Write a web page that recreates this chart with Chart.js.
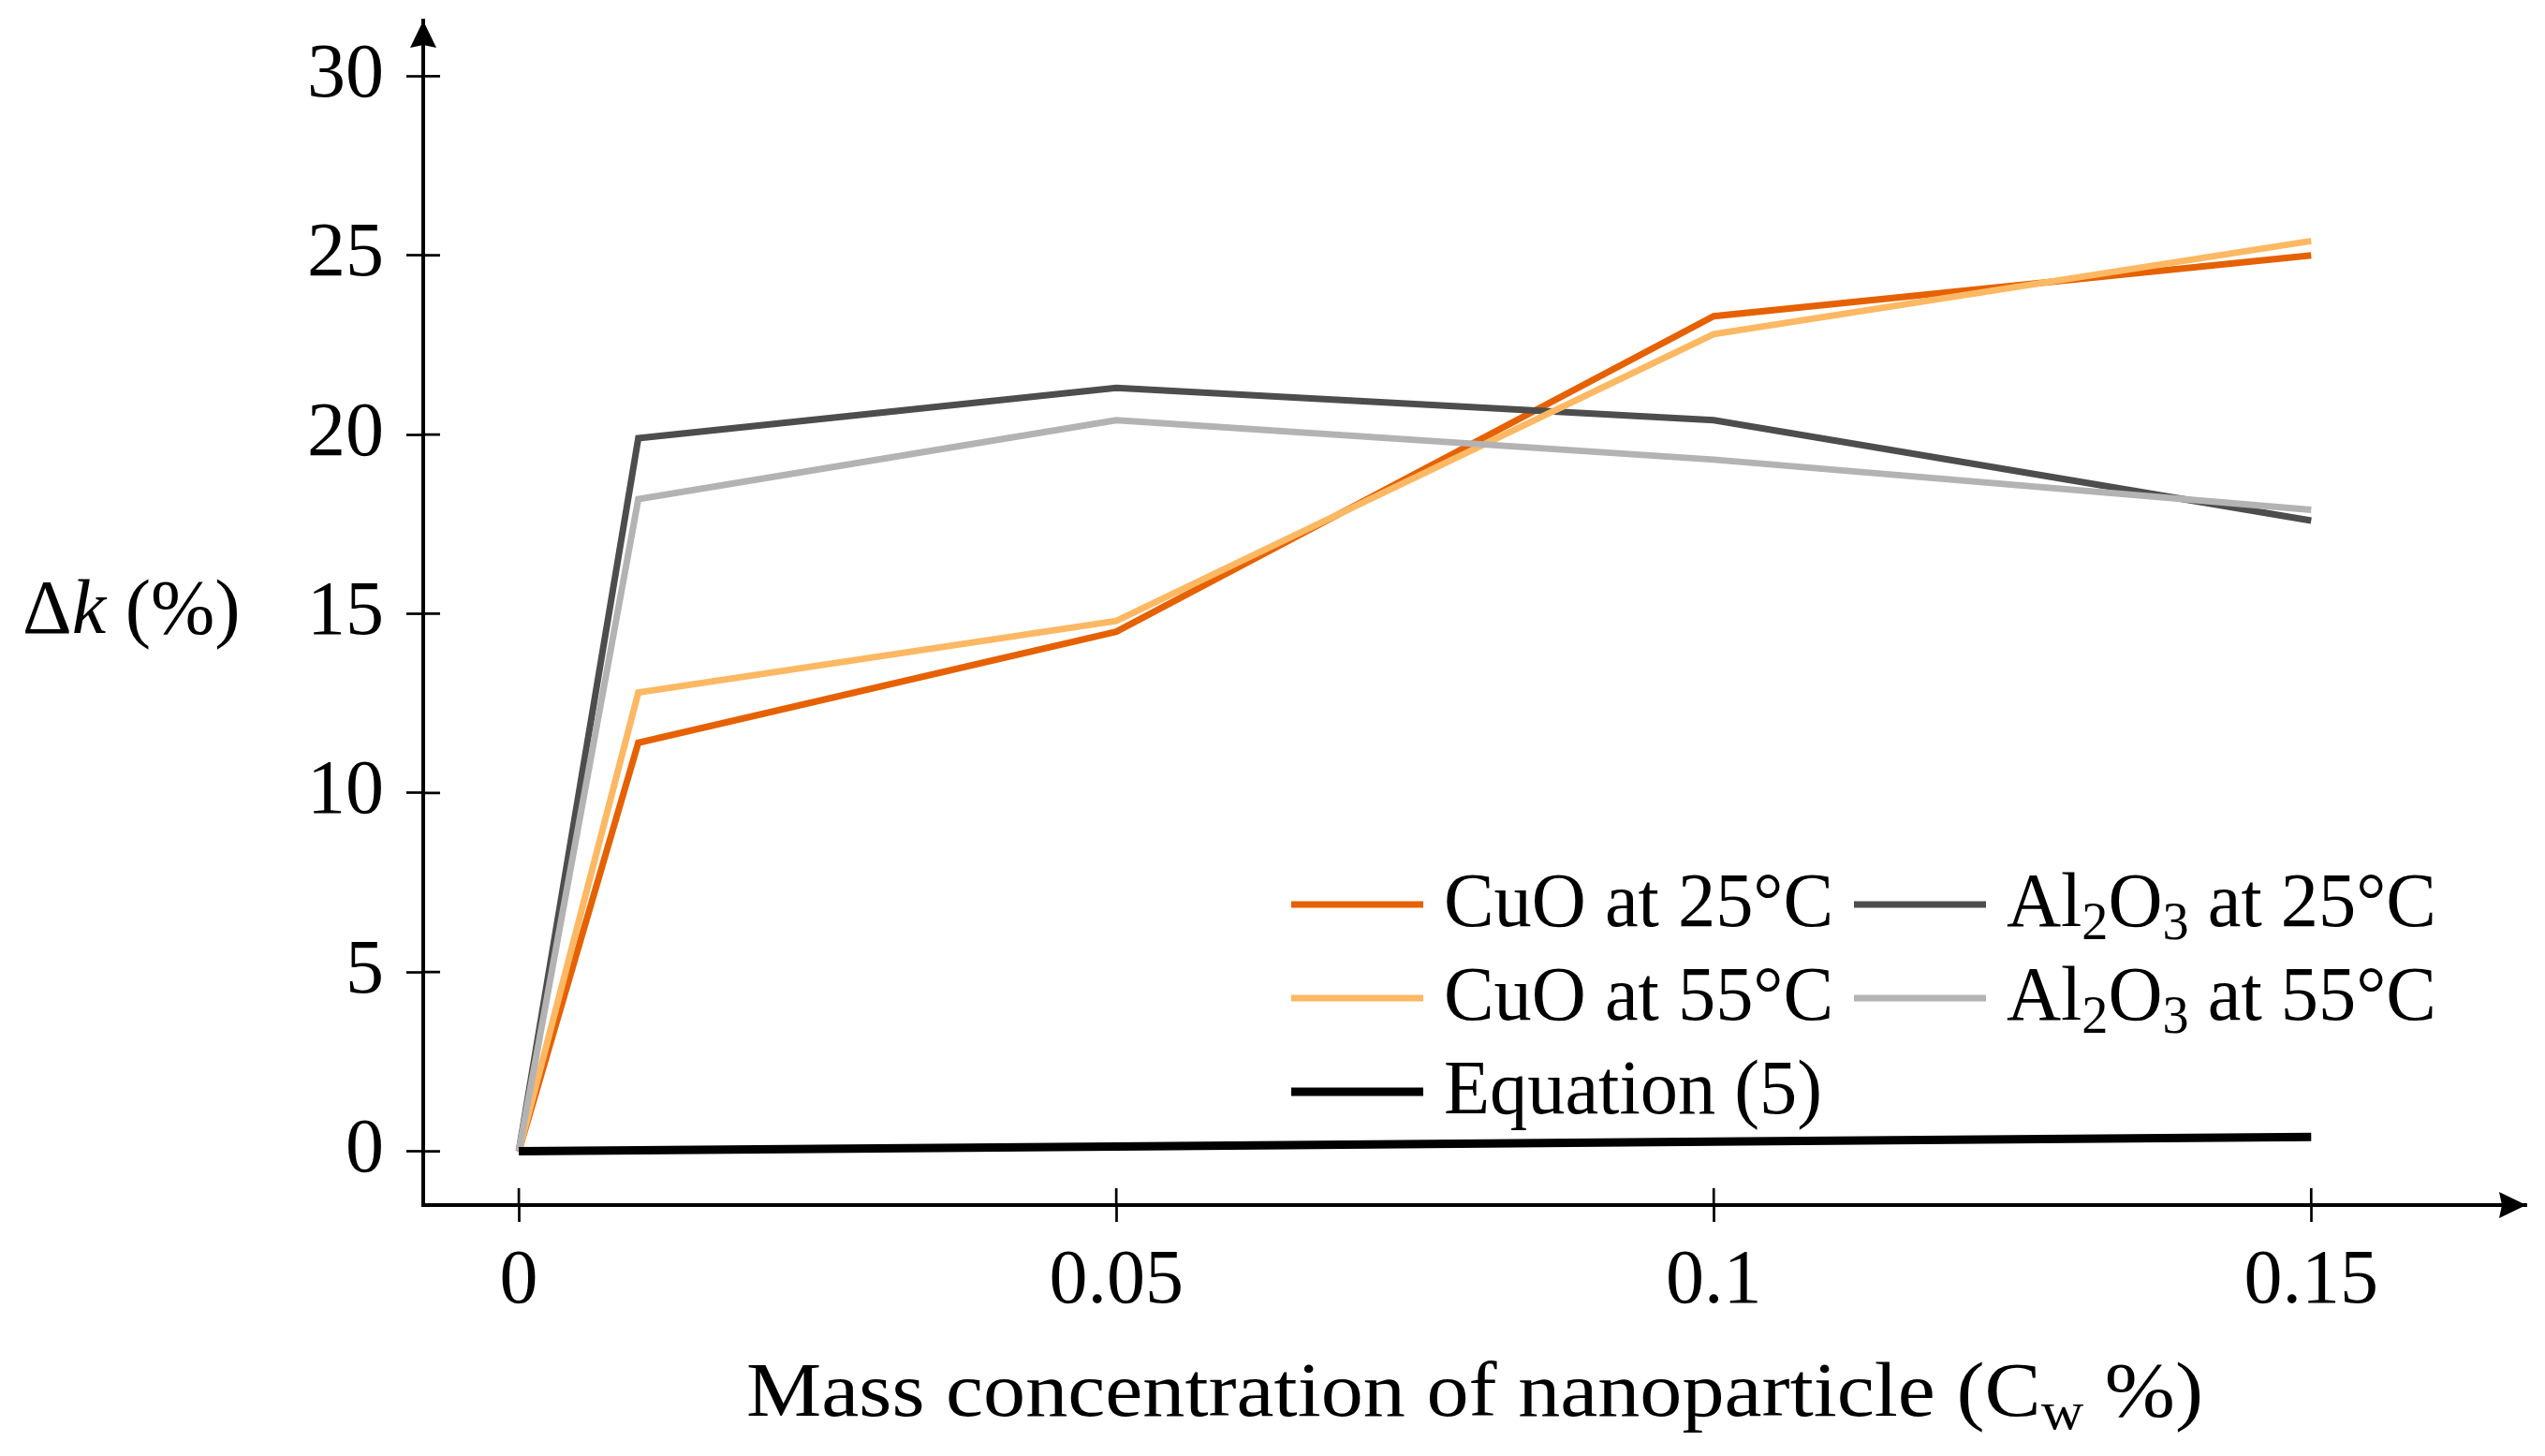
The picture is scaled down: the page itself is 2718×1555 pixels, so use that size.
<!DOCTYPE html>
<html lang="en">
<head>
<meta charset="UTF-8">
<title>Thermal conductivity enhancement vs mass concentration</title>
<script src="https://cdn.jsdelivr.net/npm/chart.js@4.4.1/dist/chart.umd.min.js"></script>
<style>
    html, body { margin: 0; padding: 0; background: #ffffff; }
    #wrap { width: 2718px; height: 1555px; }
</style>
</head>
<body>
<div id="wrap"><canvas id="kChart" width="2718" height="1555"></canvas></div>
<script>
    // values (x in mass %, y in %)
    const massConc = [0, 0.01, 0.05, 0.1, 0.15];
    const cuo25 = [0, 11.4, 14.5, 23.3, 25.0];
    const al2o3_25 = [0, 19.9, 21.3, 20.4, 17.6];
    const cuo55 = [0, 12.8, 14.8, 22.8, 25.4];
    const al2o3_55 = [0, 18.2, 20.4, 19.3, 17.9];
    const eqConc = [0, 0.05, 0.1, 0.15];
    const eq5 = [0, 0.13, 0.27, 0.4];

    const xTicks = [0, 0.05, 0.1, 0.15];
    const yTicks = [0, 5, 10, 15, 20, 25, 30];
    const seriesLabels = ['CuO at 25°C', 'Al_2O_3 at 25°C', 'CuO at 55°C', 'Al_2O_3 at 55°C', 'Equation (5)'];
    const xTitle = 'Mass concentration of nanoparticle (C_w %)';

    const FONT = '"Liberation Serif", "DejaVu Serif", serif';
    const FS = 82;

    function pts(xs, ys) {
        return xs.map((x, i) => ({ x: x, y: ys[i] }));
    }

    // split text so that "_c" gives c as a subscript
    function richParts(text) {
        const parts = [];
        for (let i = 0; i < text.length; i++) {
            if (text[i] === '_' && i + 1 < text.length) {
                parts.push({ t: text[i + 1], sub: true });
                i++;
            } else {
                const last = parts[parts.length - 1];
                if (last && !last.sub) last.t += text[i];
                else parts.push({ t: text[i], sub: false });
            }
        }
        return parts;
    }

    function drawRich(ctx, text, x, y, align, stretch) {
        stretch = stretch || 1;
        const parts = richParts(text);
        let w = 0;
        parts.forEach(p => {
            ctx.font = (p.sub ? FS * 0.7 : FS) + 'px ' + FONT;
            p.w = ctx.measureText(p.t).width;
            w += p.w;
        });
        ctx.save();
        ctx.translate(x, y);
        ctx.scale(stretch, 1);
        let cx = align === 'center' ? -w / 2 : 0;
        ctx.textAlign = 'left';
        ctx.textBaseline = 'alphabetic';
        parts.forEach(p => {
            ctx.font = (p.sub ? FS * 0.7 : FS) + 'px ' + FONT;
            ctx.fillText(p.t, cx, p.sub ? FS * 0.17 : 0);
            cx += p.w;
        });
        ctx.restore();
    }

    function arrowHead(ctx, x, y, dir) {
        const L = 29, H = 14, N = 3;
        ctx.save();
        ctx.translate(x, y);
        if (dir === 'up') ctx.rotate(-Math.PI / 2);
        ctx.beginPath();
        ctx.moveTo(0, 0);
        ctx.lineTo(-L, -H);
        ctx.lineTo(-L + N, 0);
        ctx.lineTo(-L, H);
        ctx.closePath();
        ctx.fillStyle = '#000';
        ctx.fill();
        ctx.restore();
    }

    const decorations = {
        id: 'decorations',
        afterDraw(chart) {
            const ctx = chart.ctx;
            const area = chart.chartArea;
            const xs = chart.scales.x;
            const ys = chart.scales.y;
            ctx.save();

            // inner half of the crossing tick marks
            ctx.strokeStyle = '#000';
            ctx.lineWidth = 2.7;
            ctx.beginPath();
            ys.ticks.forEach(t => {
                const py = ys.getPixelForValue(t.value);
                ctx.moveTo(area.left, py);
                ctx.lineTo(area.left + 18, py);
            });
            xs.ticks.forEach(t => {
                const px = xs.getPixelForValue(t.value);
                ctx.moveTo(px, area.bottom);
                ctx.lineTo(px, area.bottom - 18);
            });
            ctx.stroke();

            arrowHead(ctx, area.right, area.bottom, 'right');
            arrowHead(ctx, area.left, area.top, 'up');

            // legend, two columns filled row by row
            const colX = [1379, 1980];
            const rowY = [966, 1066, 1166];
            chart.data.datasets.forEach((ds, i) => {
                const lx = colX[i % 2];
                const ly = rowY[Math.floor(i / 2)];
                ctx.strokeStyle = ds.borderColor;
                ctx.lineWidth = ds.borderWidth;
                ctx.beginPath();
                ctx.moveTo(lx, ly);
                ctx.lineTo(lx + 141, ly);
                ctx.stroke();
                ctx.fillStyle = '#000';
                drawRich(ctx, seriesLabels[i], lx + 163, ly + 23, 'left', 0.98);
            });

            // axis titles
            ctx.fillStyle = '#000';
            drawRich(ctx, xTitle, (area.left + area.right) / 2, 1512, 'center', 1.1);

            const yBase = 676;
            ctx.save();
            ctx.translate(24, yBase);
            ctx.textAlign = 'left';
            ctx.textBaseline = 'alphabetic';
            let tx = 0;
            ctx.font = FS + 'px ' + FONT;
            ctx.fillText('Δ', tx, 0);
            tx += ctx.measureText('Δ').width;
            ctx.font = 'italic ' + FS + 'px ' + FONT;
            ctx.fillText('k', tx, 0);
            tx += ctx.measureText('k').width;
            ctx.font = FS + 'px ' + FONT;
            ctx.fillText(' (%)', tx, 0);
            ctx.restore();

            ctx.restore();
        }
    };

    const lineStyle = {
        showLine: true,
        pointRadius: 0,
        pointHoverRadius: 0,
        tension: 0,
        borderWidth: 7,
        borderJoinStyle: 'miter',
        borderCapStyle: 'butt',
        fill: false
    };

    const ctx = document.getElementById('kChart').getContext('2d');
    new Chart(ctx, {
        type: 'scatter',
        data: {
            datasets: [
                Object.assign({}, lineStyle, { label: seriesLabels[0], data: pts(massConc, cuo25), borderColor: '#e66101', backgroundColor: '#e66101', order: 5 }),
                Object.assign({}, lineStyle, { label: seriesLabels[1], data: pts(massConc, al2o3_25), borderColor: '#4d4d4d', backgroundColor: '#4d4d4d', order: 4 }),
                Object.assign({}, lineStyle, { label: seriesLabels[2], data: pts(massConc, cuo55), borderColor: '#fdb863', backgroundColor: '#fdb863', order: 3 }),
                Object.assign({}, lineStyle, { label: seriesLabels[3], data: pts(massConc, al2o3_55), borderColor: '#b3b3b3', backgroundColor: '#b3b3b3', order: 2 }),
                Object.assign({}, lineStyle, { label: seriesLabels[4], data: pts(eqConc, eq5), borderColor: '#000000', backgroundColor: '#000000', borderWidth: 9, order: 1 })
            ]
        },
        options: {
            responsive: false,
            animation: false,
            devicePixelRatio: 1,
            layout: { padding: { top: 22, right: 20, left: 0, bottom: 0 } },
            plugins: {
                legend: { display: false },
                tooltip: { enabled: false },
                title: { display: false }
            },
            scales: {
                x: {
                    type: 'linear',
                    min: -0.008,
                    max: 0.168,
                    afterBuildTicks: s => { s.ticks = xTicks.map(v => ({ value: v })); },
                    afterFit: s => { s.height = 268; s.paddingLeft = 0; s.paddingRight = 0; },
                    border: { display: true, color: '#000', width: 4 },
                    grid: { display: true, drawOnChartArea: false, drawTicks: true, tickLength: 18, tickWidth: 2.7, tickColor: '#000' },
                    ticks: {
                        color: '#000',
                        padding: 15,
                        maxRotation: 0,
                        font: { family: FONT, size: FS },
                        callback: v => String(v)
                    },
                    title: { display: false }
                },
                y: {
                    type: 'linear',
                    min: -1.5,
                    max: 31.55,
                    afterBuildTicks: s => { s.ticks = yTicks.map(v => ({ value: v })); },
                    afterFit: s => { s.width = 452; s.paddingTop = 0; s.paddingBottom = 0; },
                    border: { display: true, color: '#000', width: 4 },
                    grid: { display: true, drawOnChartArea: false, drawTicks: true, tickLength: 18, tickWidth: 2.7, tickColor: '#000' },
                    ticks: {
                        color: '#000',
                        padding: 24,
                        font: { family: FONT, size: FS },
                        callback: v => String(v)
                    },
                    title: { display: false }
                }
            }
        },
        plugins: [decorations]
    });
</script>
</body>
</html>
